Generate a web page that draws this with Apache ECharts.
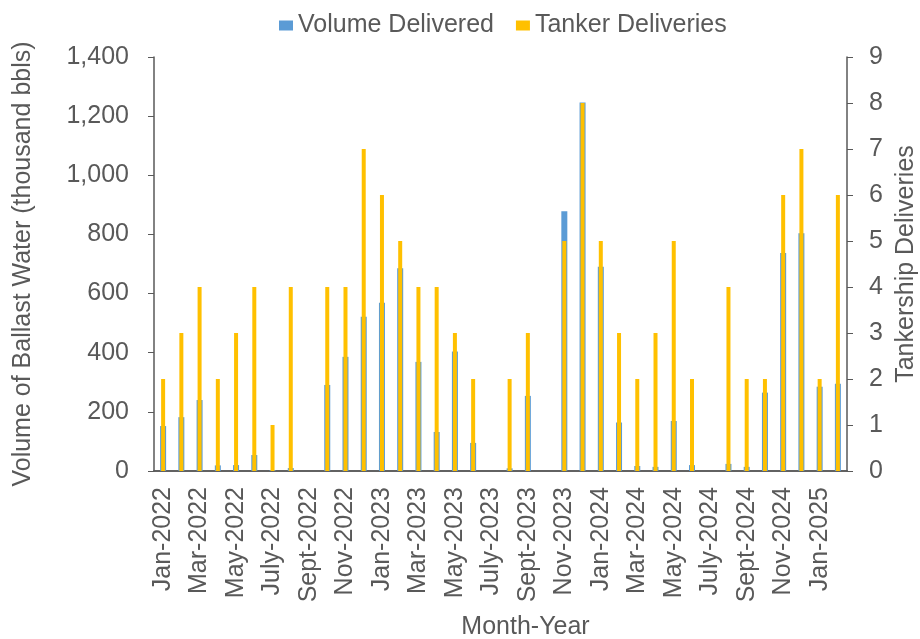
<!DOCTYPE html>
<html>
<head>
<meta charset="utf-8">
<script src="https://cdn.jsdelivr.net/npm/echarts@6/dist/echarts.min.js"></script>
<style>
  body{margin:0;background:#fff;}
  #chart{width:920px;height:639px;}
</style>
</head>
<body>
<div id="chart"></div>
<script>
// months Jan-2022 .. Feb-2025
const months = [
  'Jan-2022','Feb-2022','Mar-2022','Apr-2022','May-2022','June-2022','July-2022','Aug-2022','Sept-2022','Oct-2022','Nov-2022','Dec-2022',
  'Jan-2023','Feb-2023','Mar-2023','Apr-2023','May-2023','June-2023','July-2023','Aug-2023','Sept-2023','Oct-2023','Nov-2023','Dec-2023',
  'Jan-2024','Feb-2024','Mar-2024','Apr-2024','May-2024','June-2024','July-2024','Aug-2024','Sept-2024','Oct-2024','Nov-2024','Dec-2024',
  'Jan-2025','Feb-2025'
]
// thousand bbls
const volumeDelivered = [
  152,182,240,19,20,54,3,10,0,291,386,522,
  569,686,369,132,404,95,0,9,254,0,878,1246,
  691,164,17,14,169,20,0,24,14,265,737,804,
  285,295
]
// number of tankers
const tankerDeliveries = [
  2,3,4,2,3,4,1,4,0,4,4,7,
  6,5,4,4,3,2,0,2,3,0,5,8,
  5,3,2,3,5,2,0,4,2,2,6,7,
  2,6
]

const gray = '#595959'
const font = 'Liberation Sans, Arial, sans-serif'

const myChart = echarts.init(document.getElementById('chart'))
myChart.setOption({
  animation: false,
  textStyle: {fontFamily: font, color: gray},
  legend: {
    top: 8,
    left: 274,
    itemWidth: 14,
    itemHeight: 10,
    itemGap: 22,
    icon: 'rect',
    textStyle: {fontSize: 25, color: gray, fontFamily: font},
    data: ['Volume Delivered', 'Tanker Deliveries']
  },
  grid: {left: 154, right: 73, top: 57, bottom: 168, containLabel: false, outerBoundsMode: 'none'},
  xAxis: [
    {
      type: 'category',
      data: months,
      name: 'Month-Year',
      nameLocation: 'middle',
      nameGap: 144,
      nameTextStyle: {fontSize: 25, color: gray, padding: [0, 0, 0, 50]},
      axisLine: {lineStyle: {color: gray, width: 1.5}},
      axisTick: {length: 6, interval: 0, lineStyle: {color: gray}},
      axisLabel: {interval: 1, rotate: 90, fontSize: 25, color: gray, margin: 16}
    },
    {
      type: 'category',
      data: months,
      position: 'top',
      axisLine: {lineStyle: {color: gray, width: 1.5}},
      axisTick: {show: false},
      axisLabel: {show: false}
    }
  ],
  yAxis: [
    {
      type: 'value',
      min: 0, max: 1400, interval: 200,
      name: 'Volume of Ballast Water (thousand bbls)',
      nameLocation: 'middle',
      nameGap: 118,
      nameTextStyle: {fontSize: 25, color: gray},
      axisLine: {show: true, lineStyle: {color: gray, width: 1.5}},
      axisTick: {show: true, length: 6, lineStyle: {color: gray}},
      splitLine: {show: false},
      axisLabel: {fontSize: 25, color: gray, margin: 25,
        formatter: v => v.toLocaleString('en-US')}
    },
    {
      type: 'value',
      min: 0, max: 9, interval: 1,
      name: 'Tankership Deliveries',
      nameLocation: 'middle',
      nameGap: 47,
      nameTextStyle: {fontSize: 25, color: gray},
      axisLine: {show: true, lineStyle: {color: gray, width: 1.5}},
      axisTick: {show: true, length: 6, lineStyle: {color: gray}},
      splitLine: {show: false},
      axisLabel: {fontSize: 25, color: gray, margin: 22}
    }
  ],
  series: [
    {
      name: 'Volume Delivered',
      type: 'bar',
      xAxisIndex: 0,
      yAxisIndex: 0,
      barWidth: 6,
      z: 2,
      itemStyle: {color: '#5B9BD5'},
      data: volumeDelivered
    },
    {
      name: 'Tanker Deliveries',
      type: 'bar',
      xAxisIndex: 1,
      yAxisIndex: 1,
      barWidth: 4,
      z: 3,
      itemStyle: {color: '#FFC000'},
      data: tankerDeliveries
    }
  ]
})
</script>
</body>
</html>
